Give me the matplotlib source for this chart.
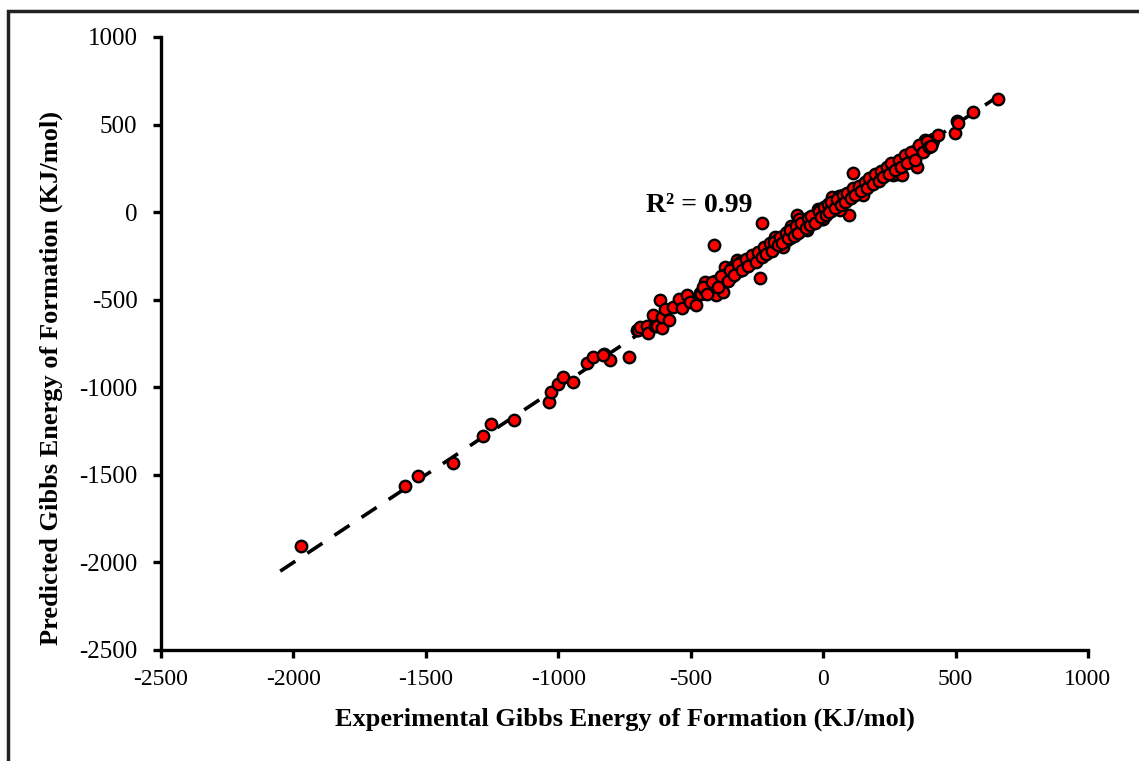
import matplotlib.pyplot as plt
from matplotlib.patches import Rectangle
import numpy as np

# experimental vs predicted Gibbs energy of formation (kJ/mol)
sparse_exp = [-1970, -1577, -1531, -1396, -1286, -1256, -1169, -1037, -1026, -1000,
              -981, -943, -890, -868, -826, -803, -732, -830]
sparse_pred = [-1907, -1565, -1508, -1433, -1279, -1211, -1188, -1085, -1028, -982,
               -942, -971, -862, -828, -811, -845, -828, -817]

cluster_exp = [-702, -698, -690, -664, -660, -641, -634, -626, -615, -607, -607, -596,
               -581, -566, -543, -532, -513, -502, -479, -464, -445, -434, -415, -404,
               -377, -370, -340, -324]
cluster_pred = [-674, -674, -657, -651, -691, -588, -651, -651, -503, -662, -600, -554,
                -617, -543, -497, -548, -474, -514, -531, -463, -400, -434, -405, -474,
                -457, -314, -331, -274]

outlier_exp = [-411, -238, -230, 113, 98, -98]
outlier_pred = [-188, -377, -63, 223, -17, -17]

band_exp = [-460, -450, -440, -430, -420, -410, -400, -390, -380, -372, -365, -355,
            -348, -343, -340, -332, -325, -318, -313, -310, -302, -295, -288, -280,
            -275, -272, -265, -258, -250, -242, -238, -235, -228, -220, -212, -211,
            -205, -198, -190, -182, -180, -175, -174, -168, -160, -152, -151, -145,
            -138, -136, -130, -124, -122, -120, -115, -108, -100, -92, -90, -85, -78,
            -75, -70, -62, -60, -55, -48, -40, -38, -32, -25, -20, -18, -10, -4, -2,
            0, 5, 12, 15, 20, 28, 34, 35, 38, 42, 50, 58, 60, 64, 65, 72, 80, 88, 94,
            95, 102, 110, 118, 125, 132, 140, 148, 150, 155, 162, 170, 177, 178, 185,
            192, 200, 204, 208, 215, 222, 230, 234, 238, 245, 252, 260, 264, 268, 275,
            280, 282, 290, 298, 298, 305, 312, 320, 321, 328, 335, 340, 342, 350, 355,
            358, 366, 372, 385, 388, 411, 415, 415, 434, 498, 505, 509, 566, 660]
band_pred = [-470, -440, -455, -420, -430, -395, -415, -380, -395, -360, -385, -350,
             -370, -314, -330, -345, -310, -335, -286, -300, -318, -280, -305, -270,
             -263, -290, -255, -275, -240, -262, -234, -225, -248, -205, -232, -217,
             -195, -215, -180, -200, -140, -160, -177, -188, -150, -170, -200, -130,
             -158, -114, -120, -149, -140, -80, -100, -128, -90, -112, -40, -70, -98,
             -86, -60, -82, -100, -40, -68, -35, -34, -52, -15, 20, -38, -5, -40, -22,
             -40, 10, -8, 29, 25, 5, 86, 40, 51, 20, 55, 35, 90, 11, 70, 50, 85, 65, 80,
             100, 80, 115, 95, 130, 110, 145, 125, 100, 160, 140, 175, 183, 155, 190,
             170, 205, 200, 185, 222, 200, 235, 240, 215, 250, 230, 265, 211, 245, 280,
             220, 262, 295, 275, 211, 310, 290, 322, 314, 305, 340, 297, 320, 355, 257,
             335, 371, 350, 411, 365, 394, 411, 417, 440, 451, 520, 508, 571, 645]

# extra compounds filling the dense middle of the band
dense_exp = [-455, -437, -418, -396, -384, -361, -352, -336, -321, -306, -291, -284,
             -268, -254, -246, -231, -224, -216, -201, -193, -186, -171, -163, -156,
             -142, -133, -126, -111, -104, -96, -82, -66, -58, -51, -44, -29, -14, -7,
             3, 9, 18, 24, 31, 46, 54, 68, 76, 84, 91, 106, 114, 121, 136, 144, 158,
             166, 174, 188, 196, 211, 219, 226, 241, 249, 256, 271, 286, 294, 309,
             316, 331, 346, 361, 376, 392, 399, 407]
dense_pred = [-430, -465, -400, -425, -365, -395, -330, -360, -298, -330, -270, -310,
              -245, -282, -225, -255, -200, -240, -178, -222, -168, -190, -140, -178,
              -120, -150, -100, -135, -78, -118, -62, -92, -35, -75, -20, -60, 5, -30,
              30, -15, 45, 0, 55, 22, 75, 40, 100, 60, 110, 78, 135, 95, 152, 118,
              172, 140, 195, 160, 215, 180, 235, 200, 258, 218, 278, 240, 300, 260,
              325, 282, 345, 300, 385, 345, 405, 372, 380]

fit_x = [-2050, 670]

plt.rcParams["font.family"] = ["Liberation Serif", "DejaVu Serif"]
plt.rcParams["axes.unicode_minus"] = False

fig = plt.figure(figsize=(11.39, 7.61), dpi=100)
ax = fig.add_axes([0.1414, 0.1459, 0.8138, 0.8055])

ax.plot(fit_x, fit_x, color="black", linewidth=2.6, linestyle=(0, (5, 4)),
        zorder=2)

all_exp = sparse_exp + cluster_exp + outlier_exp + band_exp + dense_exp
all_pred = sparse_pred + cluster_pred + outlier_pred + band_pred + dense_pred
ax.scatter(all_exp, all_pred, s=68, facecolor="#ff0000", edgecolor="black",
           linewidth=1.7, zorder=3)

ax.text(-670, 40, "R² = 0.99", fontsize=20, fontweight="bold", va="center",
        ha="left")

ax.set_xlim(-2500, 1000)
ax.set_ylim(-2500, 1000)
ax.set_xticks(np.arange(-2500, 1001, 500))
ax.set_yticks(np.arange(-2500, 1001, 500))

for side in ["top", "right"]:
    ax.spines[side].set_visible(False)
for side in ["left", "bottom"]:
    ax.spines[side].set_linewidth(2.4)
ax.tick_params(direction="out", length=6, width=2.4)
ax.tick_params(axis="x", labelsize=17, pad=8)
ax.tick_params(axis="y", labelsize=18, pad=11)

ax.set_xlabel("Experimental Gibbs Energy of Formation (KJ/mol)", fontsize=19,
              fontweight="bold", labelpad=12)
ax.set_ylabel("Predicted Gibbs Energy of Formation (KJ/mol)", fontsize=19,
              fontweight="bold")
ax.yaxis.set_label_coords(-0.106, 0.444)

# outer chart frame
frame = Rectangle((8 / 1139, -0.1), 1.2, 1 - 11 / 761 + 0.1,
                  transform=fig.transFigure, fill=False, edgecolor="#222222",
                  linewidth=2.5, clip_on=False)
fig.patches.append(frame)

fig.savefig("out.png", dpi=100)
